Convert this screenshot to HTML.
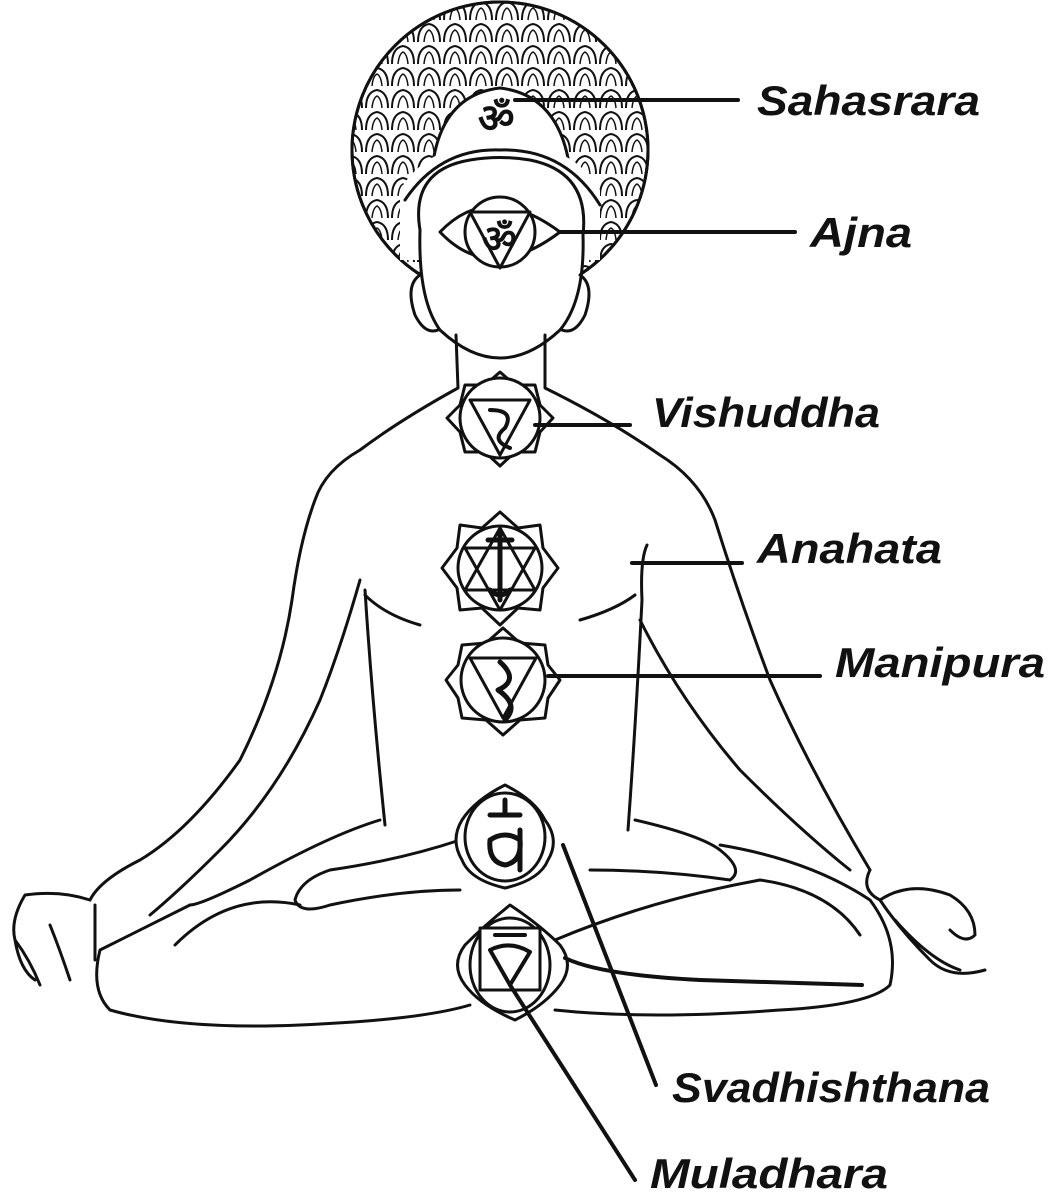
<!DOCTYPE html>
<html><head><meta charset="utf-8"><style>
html,body{margin:0;padding:0;background:#fff;}
svg{display:block}
text{font-family:"Liberation Sans",sans-serif;font-weight:bold;font-style:italic;font-size:42px;fill:#111}
</style></head><body>
<svg width="1049" height="1200" viewBox="0 0 1049 1200" xmlns="http://www.w3.org/2000/svg">
<defs>
<pattern id="pet" width="26" height="22" patternUnits="userSpaceOnUse">
<path d="M2 20 Q2 4 13 2 Q24 4 24 20" fill="none" stroke="#111" stroke-width="2"/>
<path d="M8 20 Q9 10 13 8 Q17 10 18 20" fill="none" stroke="#111" stroke-width="1.5"/>
</pattern>
</defs>
<g fill="none" stroke="#111" stroke-width="3" stroke-linecap="round" stroke-linejoin="round">
<circle cx="500" cy="150" r="148" fill="url(#pet)"/>
<circle cx="500" cy="150" r="148"/>
<path d="M432 170 Q440 95 500 88 Q560 95 570 170 Z" fill="#fff"/>
<path d="M400 190 Q430 140 500 145 Q570 140 600 190 L600 260 L400 260 Z" fill="#fff" stroke="none"/>
<path d="M405 200 Q440 148 500 150 Q565 148 600 205"/>
<path d="M420 230 Q410 170 470 160 Q500 155 530 160 Q590 172 583 235 Q585 300 560 330 Q530 358 500 358 Q470 358 440 330 Q418 300 420 230 Z" fill="#fff"/>
<path d="M420 275 Q405 285 415 315 Q425 335 438 330"/>
<path d="M580 275 Q595 285 585 315 Q575 335 562 330"/>
<path d="M440 232 Q490 180 560 232 Q490 285 440 232 Z" fill="#fff"/>
<circle cx="500" cy="232" r="35" fill="#fff"/>
<path d="M470 212 L530 212 L500 268 Z"/>
<text x="482" y="252" style="font-size:38px;font-style:normal;stroke:none">ॐ</text>
<text x="478" y="132" style="font-size:40px;font-style:normal;stroke:none">ॐ</text>
<path d="M456 335 L458 388 Q400 420 360 450 Q325 470 315 500 Q300 540 292 600 Q280 680 240 760 Q190 830 140 860 Q100 880 90 900"/>
<path d="M545 335 L545 388 Q610 420 660 455 Q700 480 715 520 Q740 600 770 680 Q810 770 870 870"/>
<path d="M360 580 Q340 650 320 700 Q280 790 220 850 Q180 890 150 915"/>
<path d="M640 620 Q680 700 740 770 Q800 830 850 870"/>
<path d="M365 590 Q372 700 385 825"/>
<path d="M647 545 Q640 560 642 600 Q636 720 628 830"/>
<path d="M365 595 Q385 615 420 625"/>
<path d="M580 620 Q615 610 635 595"/>
<path d="M90 900 Q60 890 25 895 Q10 920 15 940 Q30 960 40 985 M50 925 Q60 950 70 980 M95 905 Q95 940 95 960 M15 940 Q20 970 35 980"/>
<path d="M870 870 Q860 890 880 900 Q900 930 930 960 M880 900 Q910 880 950 895 Q975 910 975 935 Q965 945 950 930 M930 960 Q950 980 985 970 M895 920 Q930 960 960 970"/>
<path d="M190 905 Q140 930 100 950 Q90 990 110 1010 Q180 1030 300 1025 Q420 1020 470 1005"/>
<path d="M555 1010 Q650 1020 780 1010 Q870 1005 890 985 Q900 940 870 900 Q810 860 720 845"/>
<path d="M380 820 Q330 835 250 880 Q200 905 190 905"/>
<path d="M635 820 Q700 835 720 850 Q745 870 730 880 Q660 870 590 870"/>
<path d="M460 840 Q400 860 330 870 Q300 880 295 900 Q300 915 330 905 Q400 890 460 890"/>
<path d="M175 945 Q230 890 300 905"/>
<path d="M555 940 Q650 900 760 880 Q830 890 860 935"/>
<g fill="#fff">
<path d="M500 372 L515 385 L535 385 L540 405 L553 418 L540 432 L535 452 L515 452 L500 466 L485 452 L465 452 L460 432 L447 418 L460 405 L465 385 L485 385 Z"/>
<circle cx="500" cy="418" r="40"/>
<path d="M470 400 L530 400 L500 455 Z"/>
<path d="M500 512 L518 528 L540 525 L543 548 L558 568 L543 588 L540 610 L518 608 L500 625 L482 608 L460 610 L457 588 L442 568 L457 548 L460 525 L482 528 Z"/>
<circle cx="500" cy="568" r="42"/>
<path d="M500 528 L535 590 L465 590 Z M500 610 L535 548 L465 548 Z"/>
<path d="M503 628 L520 643 L545 645 L548 665 L560 680 L548 698 L545 718 L520 720 L503 735 L486 720 L462 718 L458 698 L446 680 L458 665 L462 645 L486 643 Z"/>
<circle cx="503" cy="680" r="42"/>
<path d="M470 658 L536 658 L503 718 Z"/>
<path d="M505 785 Q535 800 545 820 Q560 840 548 860 Q540 880 505 888 Q470 880 462 860 Q450 840 462 820 Q475 800 505 785 Z"/>
<ellipse cx="505" cy="837" rx="40" ry="44"/>
<path d="M510 905 Q540 925 560 945 Q575 965 560 985 Q545 1005 515 1020 Q480 1005 465 985 Q450 965 465 945 Q485 925 510 905 Z"/>
<ellipse cx="510" cy="965" rx="40" ry="47"/>
<rect x="480" y="928" width="60" height="62"/>
</g>
<path d="M500 530 L500 600 M488 540 L512 540 M490 590 Q500 600 510 590" stroke-width="5"/>
<path d="M500 662 Q520 680 498 690 Q520 705 505 720" stroke-width="5"/>
<path d="M490 410 Q515 410 505 428 Q490 440 510 448" stroke-width="4"/>
<path d="M490 815 L520 815 M505 800 L505 815 M490 840 Q488 862 505 865 Q522 862 520 840 Q505 830 490 840 M520 830 L520 870" stroke-width="5"/>
<path d="M490 950 Q510 940 530 952 L510 985 Z M495 935 L525 935" stroke-width="4"/>
<g stroke-width="4">
<line x1="515" y1="100" x2="738" y2="100"/>
<line x1="560" y1="232" x2="795" y2="232"/>
<line x1="535" y1="425" x2="630" y2="425"/>
<line x1="632" y1="563" x2="742" y2="563"/>
<line x1="548" y1="676" x2="820" y2="676"/>
<line x1="563" y1="845" x2="656" y2="1085"/>
<path d="M565 958 Q600 975 700 980 L862 985"/>
<line x1="510" y1="985" x2="635" y2="1180"/>
</g>
</g>
<text x="757" y="115" textLength="223" lengthAdjust="spacingAndGlyphs">Sahasrara</text>
<text x="810" y="247" textLength="102" lengthAdjust="spacingAndGlyphs">Ajna</text>
<text x="652" y="427" textLength="228" lengthAdjust="spacingAndGlyphs">Vishuddha</text>
<text x="757" y="563" textLength="185" lengthAdjust="spacingAndGlyphs">Anahata</text>
<text x="835" y="677" textLength="210" lengthAdjust="spacingAndGlyphs">Manipura</text>
<text x="672" y="1102" textLength="318" lengthAdjust="spacingAndGlyphs">Svadhishthana</text>
<text x="650" y="1188" textLength="238" lengthAdjust="spacingAndGlyphs">Muladhara</text>
</svg>
</body></html>
